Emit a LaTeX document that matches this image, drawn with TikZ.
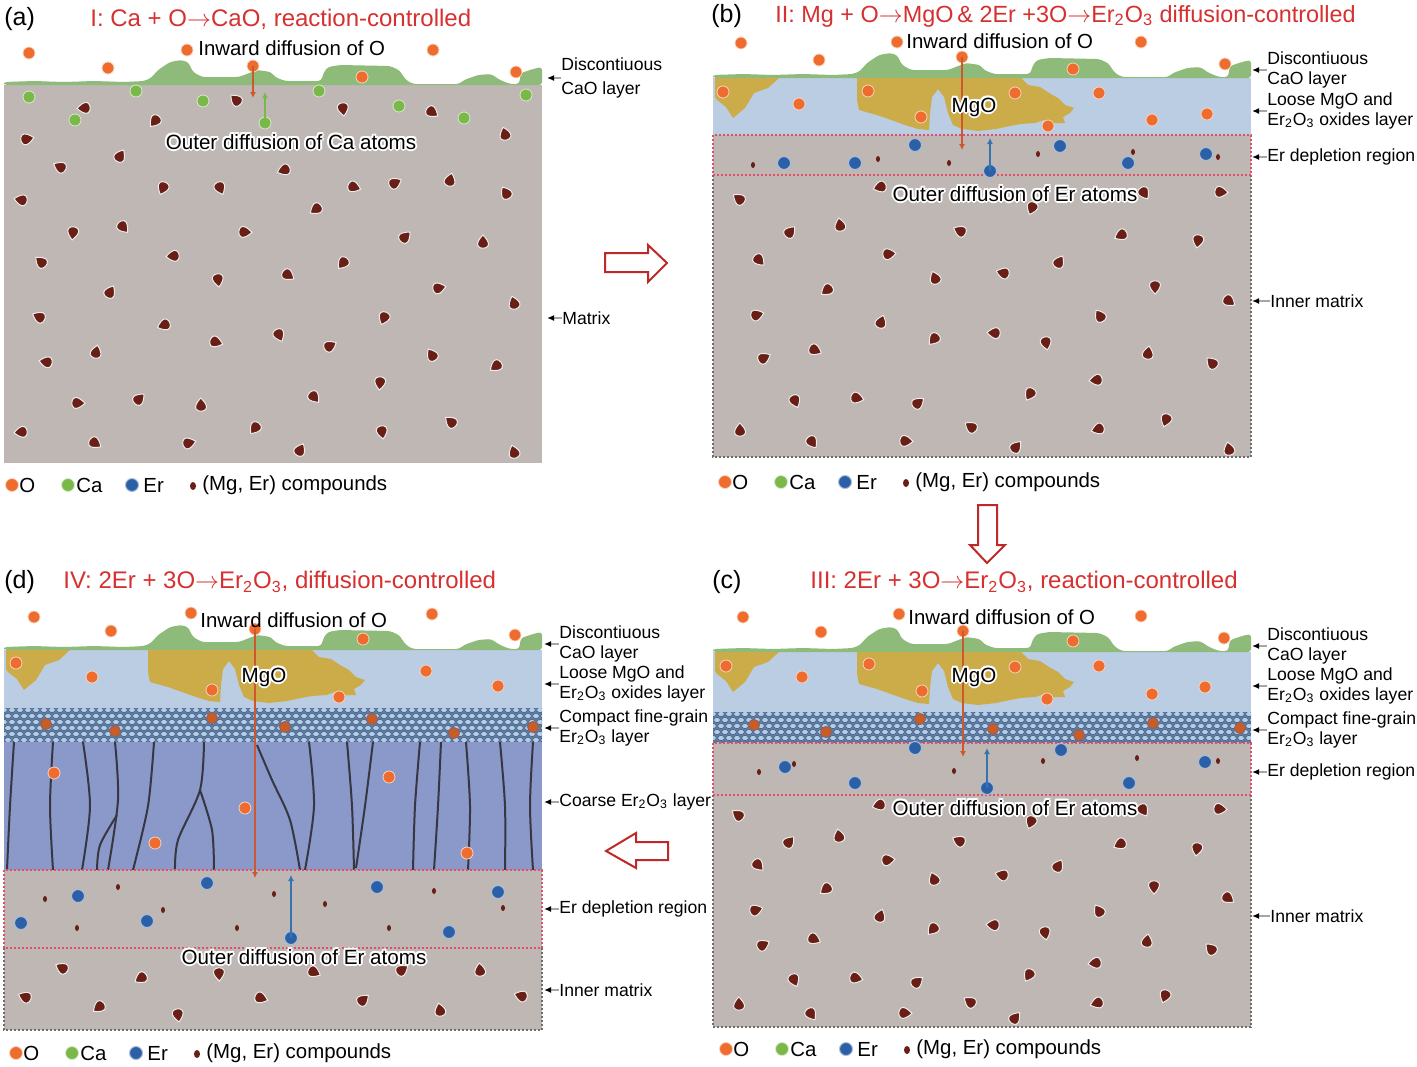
\documentclass[tikz,border=0pt]{standalone}
\usepackage{fontspec}
\setmainfont{Liberation Sans}
\usetikzlibrary{arrows.meta}
\definecolor{matcol}{RGB}{190,183,180}
\definecolor{loosecol}{RGB}{186,205,226}
\definecolor{mgocol}{RGB}{204,172,72}
\definecolor{caocol}{RGB}{142,186,122}
\definecolor{cmpcol}{RGB}{96,126,168}
\definecolor{bubcol}{RGB}{178,206,232}
\definecolor{crscol}{RGB}{138,152,202}
\definecolor{gbcol}{RGB}{55,55,65}
\definecolor{ocol}{RGB}{238,108,45}
\definecolor{cacol}{RGB}{122,184,74}
\definecolor{ercol}{RGB}{44,96,166}
\definecolor{cpdcol}{RGB}{105,30,22}
\definecolor{ttlcol}{RGB}{214,48,48}
\definecolor{depcol}{RGB}{226,78,104}
\definecolor{oarrcol}{RGB}{205,88,45}
\definecolor{erarrcol}{RGB}{55,115,175}
\definecolor{bigarr}{RGB}{190,40,40}
\newcommand\glowtext[3]{%
  \foreach \gx/\gy in {1/0,-1/0,0/1,0/-1,0.7/0.7,-0.7/0.7,0.7/-0.7,-0.7/-0.7}
    \node[glow,text=white] at ([shift={(\gx pt,\gy pt)}]#1) {#3};
  \node[glow] (#2) at (#1) {#3};}
\newcommand\ra{$\rightarrow$}
\begin{document}
\begin{tikzpicture}[x=0.5pt,y=-0.5pt,
  lbl/.style={inner sep=0pt,anchor=west,align=left,font=\fontsize{8.8}{10}\selectfont},
  leg/.style={inner sep=0pt,anchor=west,font=\fontsize{10.2}{12}\selectfont},
  ttl/.style={inner sep=0pt,anchor=west,text=ttlcol,font=\fontsize{12}{14}\selectfont},
  plet/.style={inner sep=0pt,anchor=west,font=\fontsize{12.5}{14}\selectfont},
  glow/.style={inner sep=0pt,font=\fontsize{10.3}{12}\selectfont},
  ptr/.style={draw=gray!70,line width=0.7pt,-{Latex[length=3.5pt,width=3pt,color=black]}},
  odot/.style={fill=ocol,draw=white!70!ocol,line width=0.4pt},
  odotc/.style={fill=ocol!85!black,draw=cpdcol!70,line width=0.5pt},
  cadot/.style={fill=cacol,draw=white!70!cacol,line width=0.4pt},
  erdot/.style={fill=ercol,draw=white!60!ercol,line width=0.5pt},
  oarrow/.style={draw=oarrcol,line width=0.8pt,-{Latex[length=3pt,width=3pt]}},
  caarrow/.style={draw=cacol,line width=0.8pt,-{Latex[length=3pt,width=3pt]}},
  erarrow/.style={draw=erarrcol,line width=0.8pt,-{Latex[length=3pt,width=3pt]}},
  redb/.style={draw=depcol,line width=1.3pt,dash pattern=on 1pt off 1pt},
  grayb/.style={draw=gray!85!black,line width=1.2pt,dash pattern=on 1pt off 1pt},
  bub/.style={fill=bubcol,draw=cmpcol!75!black,line width=0.3pt},
  gb/.style={draw=gbcol,line width=1pt},
  bigarrow/.style={draw=bigarr,fill=white,line width=1pt,line join=miter},
  cpd/.pic={\fill[cpdcol,draw=white!85!gray,line width=0.5pt] (0,-7) .. controls (3,-4) and (7,1) .. (5,4) .. controls (3,7) and (-3,7) .. (-5,4) .. controls (-7,1) and (-3,-4) .. (0,-7) -- cycle;},
  cao/.pic={\fill[caocol,rounded corners=1.5pt] (0,0) -- (0,-3) -- (30,-4) -- (60,-3) -- (90,-4) -- (120,-3) -- (140,-4) -- (147,-7) -- (154,-15) -- (166,-23) -- (177,-25) -- (184,-23) -- (189,-13) -- (198,-8) -- (235,-8) -- (253,-15) -- (267,-13) -- (271,-8) -- (281,-4) -- (317,-4) -- (320,-13) -- (324,-18) -- (336,-20) -- (386,-19) -- (395,-15) -- (402,-5) -- (409,-1) -- (455,-1) -- (460,-5) -- (474,-10) -- (487,-11) -- (496,-5) -- (506,-1) -- (515,-1) -- (517,-12) -- (529,-16) -- (538,-18) -- (538,0) -- cycle;},
  mgo/.pic={\fill[mgocol] (2,0) -- (66,0) -- (55,10) -- (41,15) -- (32,30) -- (20,40) -- (13,29) -- (4,22) -- (2,19) -- cycle;
    \fill[mgocol] (144,0) -- (308,0) -- (315,7) -- (327,9) -- (336,15) -- (345,20) -- (352,27) -- (361,30) -- (357,35) -- (350,39) -- (352,45) -- (340,45) -- (331,42) -- (322,45) -- (308,46) -- (297,48) -- (283,51) -- (265,53) -- (249,51) -- (240,47) -- (235,35) -- (231,19) -- (225,11) -- (219,19) -- (217,35) -- (216,52) -- (205,51) -- (192,47) -- (178,42) -- (164,37) -- (153,34) -- (146,32) -- (144,22) -- cycle;},
  legend/.pic={\fill[odot] (0,0) circle (6.5); \node[leg] at (7,0) {O};
    \fill[cadot] (56,0) circle (6.5); \node[leg] at (64,0) {Ca};
    \fill[erdot] (120,0) circle (6.5); \node[leg] at (131,0) {Er};
    \fill[cpdcol] (181,1) ellipse (3 and 4); \node[leg] at (190,0) {(Mg, Er) compounds};}]
\path[fill=white] (0,0) rectangle (1417,1066);

\fill[matcol] (4,85) rectangle (542,463);
\pic at (4,85) {cao};
\foreach \x/\y [count=\i] in {236/100,84/108,155/121,343/109,432/112,27/139,120/156,505/134,60/167,284/170,163/188,220/188,354/187,395/183,450/180,506/193,21/200,316/209,73/233,123/227,245/232,405/237,483/242,41/262,173/256,343/263,218/280,288/275,439/288,110/292,514/303,39/317,164/325,384/318,279/335,216/342,330/346,96/352,432/355,46/362,496/366,380/383,314/397,78/403,139/399,201/405,451/422,21/432,255/428,382/432,95/443,189/443,300/450,514/452}
  \pic[rotate=\i*47] at (\x,\y) {cpd};
\foreach \x/\y in {29/97,136/91,203/101,75/120,265/123,319/91,399/106,464/118,526/95}
  \fill[cadot] (\x,\y) circle (6);
\foreach \x/\y in {29/53,108/68,187/50,253/66,433/50,362/77,516/72}
  \fill[odot] (\x,\y) circle (6);
\coordinate (aOs) at (253,66);
\coordinate (aOe) at (253,98);
\coordinate (aCas) at (265,123);
\coordinate (aCae) at (265,92);
\draw[oarrow] (aOs) -- (aOe);
\draw[caarrow] (aCas) -- (aCae);
\node[leg] (aIn) at (198,48) {Inward diffusion of O};
\glowtext{291,142}{aOut}{Outer diffusion of Ca atoms}
\node[plet] (aLet) at (4,19) {(a)};
\node[ttl] (aTtl) at (90,19) {I: Ca + O\ra CaO, reaction-controlled};
\node[lbl,font=\fontsize{8.8}{12}\selectfont] (aCaO) at (561,78) {Discontiuous\\CaO layer};
\node[lbl] (aMat) at (562,318) {Matrix};
\draw[ptr] (aCaO.west) -- ++(-14,0);
\draw[ptr] (aMat.west) -- ++(-15,0);
\pic at (12,485) {legend};

\draw[bigarrow] (605,253) -- (648,253) -- (648,245) -- (667,263) -- (648,282) -- (648,272) -- (605,272) -- cycle;

\fill[loosecol] (713,78) rectangle (1251,135);
\fill[matcol] (713,135) rectangle (1251,457);
\draw[grayb] (713,175) -- (713,457) -- (1251,457) -- (1251,175);
\draw[redb] (713,135) rectangle (1251,175);
\pic at (713,78) {cao};
\pic at (713,78) {mgo};
\foreach \x/\y [count=\i] in {739/199,880/187,1032/208,1144/193,1221/192,790/232,840/225,960/231,1121/235,1198/241,759/260,889/254,1059/262,935/278,1003/273,827/290,1155/287,1229/301,757/315,881/322,1100/316,994/333,934/339,1046/343,815/350,764/358,1148/353,1212/363,1096/380,1030/394,795/401,857/398,918/403,740/430,971/427,1098/429,1166/420,812/442,906/441,1016/447,1229/449}
  \pic[rotate=\i*53] at (\x,\y) {cpd};
\foreach \x/\y in {753/165,878/159,949/163,1038/154,1133/152,1218/157}
  \fill[cpdcol] (\x,\y) ellipse (2 and 3);
\foreach \x/\y in {915/145,784/163,855/163,990/171,1060/146,1128/163,1206/154}
  \fill[erdot] (\x,\y) circle (6.5);
\foreach \x/\y in {741/43,819/60,897/42,962/57,1141/42,1073/69,1225/64,723/92,799/104,868/91,921/117,1015/93,1048/126,1099/93,1152/120,1207/114}
  \fill[odot] (\x,\y) circle (6);
\coordinate (bOs) at (962,57);
\coordinate (bOe) at (962,150);
\coordinate (bErs) at (990,171);
\coordinate (bEre) at (990,138);
\draw[oarrow] (bOs) -- (bOe);
\draw[erarrow] (bErs) -- (bEre);
\node[leg] (bIn) at (906,41) {Inward diffusion of O};
\glowtext{974,107}{bMgO}{MgO}
\glowtext{1015,194}{bOut}{Outer diffusion of Er atoms}
\node[plet] (bLet) at (711,16) {(b)};
\node[ttl,font=\fontsize{11.7}{14}\selectfont] (bTtl) at (775,16) {II: Mg + O\ra MgO\,\& 2Er +3O\ra Er\textsubscript{2}O\textsubscript{3} diffusion-controlled};
\node[lbl] (bCaO) at (1267,70) {Discontiuous\\CaO layer};
\node[lbl] (bLoose) at (1267,111) {Loose MgO and\\Er\textsubscript{2}O\textsubscript{3} oxides layer};
\node[lbl] (bDep) at (1267,157) {Er depletion region};
\node[lbl] (bInner) at (1270,301) {Inner matrix};
\draw[ptr] (bCaO.west) -- ++(-15,0);
\draw[ptr] (bLoose.west) -- ++(-15,0);
\draw[ptr] (bDep.west) -- ++(-15,0);
\draw[ptr] (bInner.west) -- ++(-18,0);
\pic at (725,482) {legend};

\draw[bigarrow] (978,505) -- (997,505) -- (997,545) -- (1005,545) -- (987,563) -- (970,545) -- (978,545) -- cycle;

\fill[loosecol] (713,652) rectangle (1251,712);
\begin{scope}
  \clip (713,712) rectangle (1251,743);
  \fill[cmpcol] (713,712) rectangle (1251,743);
  \foreach \r in {0,...,5}
    \foreach \c in {0,...,68}
      \filldraw[bub] ({713+8*\c+4*mod(\r,2)},{714+6*\r}) ellipse (3.4 and 2.6);
\end{scope}
\fill[matcol] (713,743) rectangle (1251,1027);
\draw[grayb] (713,795) -- (713,1027) -- (1251,1027) -- (1251,795);
\draw[redb] (713,743) rectangle (1251,795);
\pic at (713,652) {cao};
\pic at (713,652) {mgo};
\foreach \x/\y [count=\i] in {738/815,879/805,1031/822,1143/810,1220/809,789/842,839/836,959/841,1120/844,1197/849,758/865,888/860,1058/866,934/879,1002/875,826/889,1154/887,1228/898,756/910,880/916,1099/911,993/925,933/929,1045/933,814/939,763/945,1147/941,1211/949,1095/963,1029/975,794/980,856/978,917/982,739/1004,970/1002,1097/1003,1165/996,811/1014,905/1013,1015/1018}
  \pic[rotate=\i*53] at (\x,\y) {cpd};
\foreach \x/\y in {759/772,794/764,954/771,1043/761,1137/758,1218/761}
  \fill[cpdcol] (\x,\y) ellipse (2 and 3);
\foreach \x/\y in {915/748,785/767,855/783,987/788,1061/750,1129/783,1205/762}
  \fill[erdot] (\x,\y) circle (6.5);
\foreach \x/\y in {743/617,821/632,899/614,963/631,1141/616,1073/641,1224/638,726/666,802/677,869/664,922/691,1015/667,1047/699,1099/666,1152/694,1205/687}
  \fill[odot] (\x,\y) circle (6);
\foreach \x/\y in {754/725,826/732,920/719,993/729,1079/735,1153/723,1240/728}
  \fill[odotc] (\x,\y) circle (5.5);
\coordinate (cOs) at (963,631);
\coordinate (cOe) at (963,757);
\coordinate (cErs) at (987,788);
\coordinate (cEre) at (987,748);
\draw[oarrow] (cOs) -- (cOe);
\draw[erarrow] (cErs) -- (cEre);
\node[leg] (cIn) at (908,617) {Inward diffusion of O};
\glowtext{974,677}{cMgO}{MgO}
\glowtext{1015,808}{cOut}{Outer diffusion of Er atoms}
\node[plet] (cLet) at (712,582) {(c)};
\node[ttl] (cTtl) at (810,582) {III: 2Er + 3O\ra Er\textsubscript{2}O\textsubscript{3}, reaction-controlled};
\node[lbl] (cCaO) at (1267,646) {Discontiuous\\CaO layer};
\node[lbl] (cLoose) at (1267,686) {Loose MgO and\\Er\textsubscript{2}O\textsubscript{3} oxides layer};
\node[lbl] (cCmp) at (1267,730) {Compact fine-grain\\Er\textsubscript{2}O\textsubscript{3} layer};
\node[lbl] (cDep) at (1267,772) {Er depletion region};
\node[lbl] (cInner) at (1270,916) {Inner matrix};
\draw[ptr] (cCaO.west) -- ++(-15,0);
\draw[ptr] (cLoose.west) -- ++(-15,0);
\draw[ptr] (cCmp.west) -- ++(-15,0);
\draw[ptr] (cDep.west) -- ++(-15,0);
\draw[ptr] (cInner.west) -- ++(-18,0);
\pic at (726,1049) {legend};

\draw[bigarrow] (668,842) -- (636,842) -- (636,833) -- (606,851) -- (636,868) -- (636,860) -- (668,860) -- cycle;

\fill[loosecol] (4,650) rectangle (542,708);
\begin{scope}
  \clip (4,708) rectangle (542,742);
  \fill[cmpcol] (4,708) rectangle (542,742);
  \foreach \r in {0,...,6}
    \foreach \c in {0,...,68}
      \filldraw[bub] ({4+8*\c+4*mod(\r,2)},{710+6*\r}) ellipse (3.4 and 2.6);
\end{scope}
\fill[crscol] (4,742) rectangle (542,870);
\foreach \p in {{(14,742) (10,806) (7,870)},{(53,742) (50,806) (53,870)},{(83,742) (90,806) (82,870)},{(115,742) (118,800) (108,870)},{(117,815) (100,845) (97,870)},{(154,742) (148,806) (133,870)},{(204,742) (200,790) (178,840) (175,870)},{(200,790) (212,830) (214,870)},{(257,745) (272,780) (290,820) (300,870)},{(309,742) (314,806) (305,870)},{(347,742) (352,806) (354,870)},{(373,742) (365,806) (356,868)},{(420,742) (415,806) (413,870)},{(441,742) (438,806) (434,870)},{(466,742) (470,806) (468,870)},{(500,742) (505,806) (505,870)},{(533,742) (530,806) (533,870)}}
  \draw[gb] plot[smooth] coordinates {\p};
\fill[matcol] (4,870) rectangle (542,1030);
\draw[grayb] (4,948) -- (4,1030) -- (542,1030) -- (542,948);
\draw[redb] (4,870) rectangle (542,948);
\pic at (4,650) {cao};
\pic at (4,650) {mgo};
\foreach \x/\y [count=\i] in {62/968,141/978,219/974,314/972,402/970,480/970,25/997,99/1007,178/1015,261/998,363/1000,440/1010,521/996}
  \pic[rotate=\i*61] at (\x,\y) {cpd};
\foreach \x/\y in {45/899,118/887,163/910,77/928,237/928,274/894,325/904,389/928,434/891,503/908}
  \fill[cpdcol] (\x,\y) ellipse (2 and 3);
\foreach \x/\y in {207/883,78/896,21/923,147/921,291/938,377/887,449/932,498/892}
  \fill[erdot] (\x,\y) circle (6.5);
\foreach \x/\y in {34/617,111/631,191/613,255/629,432/614,363/639,515/635,16/663,92/677,212/690,339/697,426/671,498/686,54/773,389/777,245/808,155/843,467/853}
  \fill[odot] (\x,\y) circle (6);
\foreach \x/\y in {46/724,115/731,212/718,285/727,372/719,454/733,533/727}
  \fill[odotc] (\x,\y) circle (5.5);
\coordinate (dOs) at (255,629);
\coordinate (dOe) at (255,878);
\coordinate (dErs) at (291,938);
\coordinate (dEre) at (291,875);
\draw[oarrow] (dOs) -- (dOe);
\draw[erarrow] (dErs) -- (dEre);
\node[leg] (dIn) at (200,620) {Inward diffusion of O};
\glowtext{264,677}{dMgO}{MgO}
\glowtext{304,957}{dOut}{Outer diffusion of Er atoms}
\node[plet] (dLet) at (4,582) {(d)};
\node[ttl] (dTtl) at (63,582) {IV: 2Er + 3O\ra Er\textsubscript{2}O\textsubscript{3}, diffusion-controlled};
\node[lbl] (dCaO) at (559,644) {Discontiuous\\CaO layer};
\node[lbl] (dLoose) at (559,684) {Loose MgO and\\Er\textsubscript{2}O\textsubscript{3} oxides layer};
\node[lbl] (dCmp) at (559,728) {Compact fine-grain\\Er\textsubscript{2}O\textsubscript{3} layer};
\node[lbl] (dCrs) at (559,802) {Coarse Er\textsubscript{2}O\textsubscript{3} layer};
\node[lbl] (dDep) at (559,909) {Er depletion region};
\node[lbl] (dInner) at (559,990) {Inner matrix};
\draw[ptr] (dCaO.west) -- ++(-15,0);
\draw[ptr] (dLoose.west) -- ++(-15,0);
\draw[ptr] (dCmp.west) -- ++(-15,0);
\draw[ptr] (dCrs.west) -- ++(-15,0);
\draw[ptr] (dDep.west) -- ++(-15,0);
\draw[ptr] (dInner.west) -- ++(-15,0);
\pic at (16,1053) {legend};
\end{tikzpicture}
\end{document}
